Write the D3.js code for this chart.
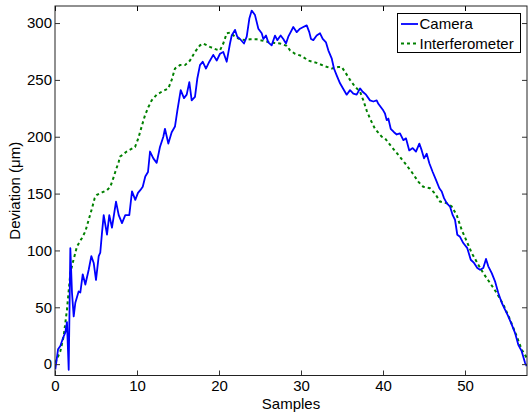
<!DOCTYPE html>
<html>
<head>
<meta charset="utf-8">
<script src="https://cdn.jsdelivr.net/npm/d3@7"></script>
<style>
  html, body { margin: 0; padding: 0; background: #fff; }
  svg { display: block; }
  text { font-family: "Liberation Sans", Arial, Helvetica, sans-serif; fill: #000; }
</style>
</head>
<body>
<svg id="chart" width="528" height="416"></svg>
<script>
// ---- data ----
const cameraSamples = [0.04,0.37,0.65,0.98,1.26,1.46,1.67,1.87,2.07,2.28,2.48,2.89,3.09,3.38,3.70,4.11,4.43,4.72,5.00,5.33,5.52,5.73,5.94,6.34,6.62,6.95,7.44,7.77,8.17,8.57,9.06,9.39,9.79,10.12,10.40,10.70,11.01,11.34,11.59,11.99,12.40,12.80,13.21,13.41,13.82,14.23,14.63,14.92,15.33,15.73,16.06,16.38,16.67,17.07,17.35,17.68,18.01,18.41,18.82,19.30,19.72,20.12,20.52,20.94,21.34,21.55,21.95,22.23,22.56,23.05,23.38,23.70,23.99,24.39,24.80,25.21,25.41,25.73,26.01,26.42,26.83,27.11,27.52,27.84,28.17,28.45,28.74,29.06,29.48,29.88,30.28,30.70,31.01,31.22,31.50,31.91,32.32,32.65,33.05,33.33,33.74,34.02,34.35,34.76,35.16,35.57,35.98,36.38,36.79,37.20,37.52,37.93,38.41,38.82,39.23,39.43,39.84,40.04,40.24,40.45,40.65,40.94,41.34,41.67,42.07,42.48,42.80,43.20,43.62,44.02,44.43,44.72,45.00,45.33,45.65,46.06,46.46,46.87,47.16,47.44,47.77,48.17,48.50,48.78,49.06,49.39,49.79,50.28,50.70,51.10,51.50,51.83,52.23,52.56,52.84,53.26,53.66,54.06,54.48,54.88,55.28,55.70,56.10,56.50,56.91,57.32,57.52];
const cameraDeviation = [-4.6,13,16,23,28,37,-5,102,63,42,54,64,63,79,70,83,95,89,74,95,98,115.5,131,114,131,120,143,131,124,131,131,152,144.5,150.6,153,156,165,169,187,181,177,191,200,207,194,204,209,223,241,234,237,248,232,235,251,263,266,260,266,272,267,273,274.6,266,282,289,294,288,286,282,288,304,311,307,295,291,286,289,283,280.4,289,285,289,286,282,288,292,296.5,292,295,296.5,298,292,286,285,289,291,286,283,276,269,260,254,247,242,237,241,238,237,242.5,239.6,237,232,231,232,229,225,223,220.5,214.6,216,207,204,202,203,197,198.6,188,190,187,194,188,181,185,176.7,169,162,154.7,151.8,146,141.6,138.6,131,127,113.8,112,106.5,102,91.8,89,84.6,83,84.6,92.5,86,80,72.8,62.6,54,48,42,34.8,27.5,17,11.4,1.2,-1.8];

const interferometerSamples = [0.04,0.65,1.06,1.46,1.87,2.16,2.68,3.29,3.70,4.11,4.51,4.84,5.12,5.73,6.34,6.74,7.04,7.35,7.77,7.93,8.74,9.76,10.16,10.57,10.98,11.38,11.79,12.40,13.01,13.82,14.23,14.63,15.24,15.85,16.46,17.07,17.68,18.09,18.90,19.72,20.12,20.52,20.94,21.34,21.95,22.56,23.17,23.78,24.60,25.00,26.22,27.44,28.26,28.66,29.27,30.09,30.89,31.91,32.93,33.74,34.55,34.96,35.37,35.98,36.59,37.20,37.60,38.01,38.41,39.02,39.84,40.24,41.06,41.87,42.68,43.50,44.30,44.91,45.73,46.34,46.95,47.77,48.38,48.99,49.60,50.21,50.82,51.62,52.23,53.05,53.87,54.67,55.49,56.30,56.91,57.52];
const interferometerDeviation = [1.2,11.4,24.6,48,80,89,103.5,111,116.7,127,137,146,149,151,153,156,162,169,178,182.5,187,191,198.6,209,219,226,232,237,239.6,242.5,250,260,263,263,267,274.6,280.4,282,279,276.6,276,282,291,291.6,288,285.7,285,285.7,285.7,285,283,282,280,276,273,271,267,265,262,260,261.4,261.4,257,250,244,239.6,232,223,216,207,200,198.6,191,184,176.7,169,160.5,156,154.7,150,143,141.6,138.6,131,118,108,97.7,87.5,80,71.4,62.6,52.4,39.2,24.6,12.9,5.6];

const xTicks = [0, 10, 20, 30, 40, 50];
const yTicks = [0, 50, 100, 150, 200, 250, 300];
const seriesNames = ["Camera", "Interferometer"];
const xLabel = "Samples";
const yLabel = "Deviation (\u03bcm)";

// ---- layout ----
const svg = d3.select("#chart");
const mL = 55, mR = 527, mT = 6, mB = 375.5;
const x = d3.scaleLinear().domain([0, 57.56]).range([mL, mR]);
const y = d3.scaleLinear().domain([-10, 315]).range([mB, mT]);
const FS = "15px";
const tickLen = 5;

svg.append("defs").append("clipPath").attr("id", "clip")
  .append("rect").attr("x", mL).attr("y", mT).attr("width", mR - mL).attr("height", mB - mT);

const cam = cameraSamples.map((s, i) => [s, cameraDeviation[i]]);
const itf = interferometerSamples.map((s, i) => [s, interferometerDeviation[i]]);
const line = d3.line().x(d => x(d[0])).y(d => y(d[1]));

const g = svg.append("g").attr("clip-path", "url(#clip)");
g.append("path").datum(itf).attr("d", line)
  .attr("fill", "none").attr("stroke", "#008000").attr("stroke-width", 2)
  .attr("stroke-dasharray", "3,3");
g.append("path").datum(cam).attr("d", line)
  .attr("fill", "none").attr("stroke", "#0000ff").attr("stroke-width", 1.8)
  .attr("stroke-linejoin", "round");

// ---- axes (MATLAB-style box with inward ticks) ----
const axBottom = d3.axisBottom(x).tickValues(xTicks).tickSize(-tickLen).tickPadding(5).tickFormat(d3.format("d"));
const axTop = d3.axisTop(x).tickValues(xTicks).tickSize(-tickLen).tickFormat("");
const axLeft = d3.axisLeft(y).tickValues(yTicks).tickSize(-tickLen).tickPadding(3).tickFormat(d3.format("d"));
const axRight = d3.axisRight(y).tickValues(yTicks).tickSize(-tickLen).tickFormat("");

function style(sel, color) {
  sel.select(".domain").remove();
  sel.selectAll(".tick line").attr("stroke", color);
  sel.selectAll(".tick text").style("font-size", FS).attr("fill", "#000");
}
style(svg.append("g").attr("transform", `translate(0,${mB})`).call(axBottom), "#333");
style(svg.append("g").attr("transform", `translate(0,${mT})`).call(axTop), "#000");
style(svg.append("g").attr("transform", `translate(${mL},0)`).call(axLeft), "#333");
style(svg.append("g").attr("transform", `translate(${mR},0)`).call(axRight), "#333");

svg.append("rect").attr("x", mL).attr("y", mT).attr("width", mR - mL).attr("height", mB - mT)
  .attr("fill", "none").attr("stroke", "#222").attr("stroke-width", 1);

// ---- axis labels ----
svg.append("text").attr("x", (mL + mR) / 2).attr("y", 408.5).attr("text-anchor", "middle")
  .style("font-size", FS).text(xLabel);
svg.append("text").attr("transform", `translate(20,${(mT + mB) / 2}) rotate(-90)`)
  .attr("text-anchor", "middle").style("font-size", FS).text(yLabel);

// ---- legend ----
const lg = svg.append("g");
lg.append("rect").attr("x", 397.5).attr("y", 13.5).attr("width", 123).attr("height", 39)
  .attr("fill", "#fff").attr("stroke", "#000").attr("stroke-width", 1);
const rows = [
  {name: seriesNames[0], color: "#0000ff", dash: null, w: 1.8, yy: 24},
  {name: seriesNames[1], color: "#008000", dash: "3,3", w: 2, yy: 43.5}
];
rows.forEach(r => {
  lg.append("line").attr("x1", 401).attr("x2", 418).attr("y1", r.yy).attr("y2", r.yy)
    .attr("stroke", r.color).attr("stroke-width", r.w).attr("stroke-dasharray", r.dash);
  lg.append("text").attr("x", 419.5).attr("y", r.yy + 5.3).style("font-size", FS).text(r.name);
});
</script>
</body>
</html>
